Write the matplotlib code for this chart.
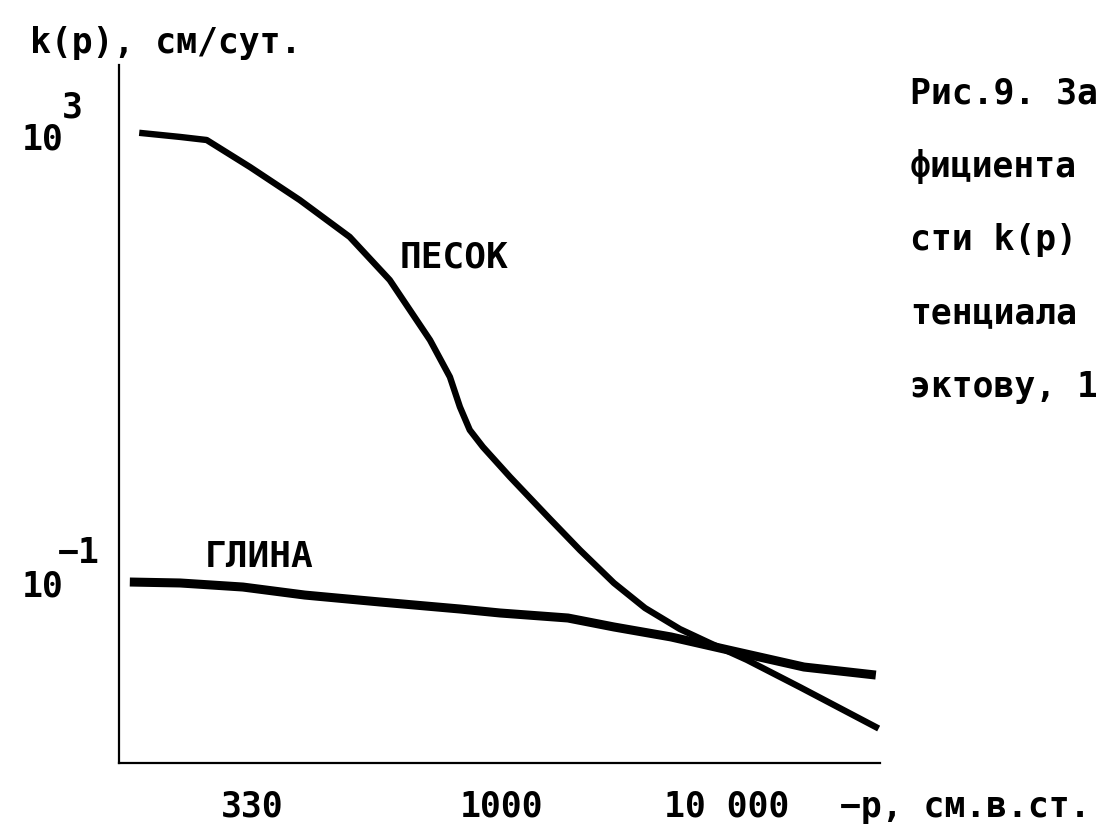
import numpy as np
import matplotlib.pyplot as plt

# Sand (ПЕСОК) and clay (ГЛИНА): suction -p (cm water) vs conductivity k (cm/day)
sand_p = [203, 240, 270, 327, 408, 509, 608, 727, 794, 830, 867, 919, 1086,
          1634, 2222, 3145, 4325, 6180, 8395, 12270, 21100, 45900]
sand_k = [1060, 980, 920, 528, 267, 125, 51.4, 14.9, 6.97, 3.76, 2.34, 1.65,
          0.889, 0.374, 0.197, 0.1, 0.0597, 0.0387, 0.0290, 0.0205, 0.0117,
          0.00514]

clay_p = [192, 240, 317, 417, 582, 830, 991, 1965, 3145, 5640, 10100, 22000, 45900]
clay_k = [0.102, 0.1, 0.092, 0.078, 0.0676, 0.0585, 0.0539, 0.0486, 0.0404,
          0.0329, 0.0252, 0.0177, 0.0150]

x_ticks = [330, 1000, 10000]
x_tick_labels = ['330', '1000', '10 000']
y_ticks = [1e3, 1e-1]
y_tick_labels = ['10', '10']
y_exponents = ['3', '−1']

caption = ['Рис.9. За', 'фициента', 'сти k(p)', 'тенциала', 'эктову, 1']


# the drawing squeezes the axis: 330..1000 is wider than 1000..10000
def fwd(p):
    lp = np.log10(np.clip(p, 1e-9, None))
    return np.where(lp < 3, (lp - 3) / 0.4815, (lp - 3) * 0.9)


def inv(u):
    return 10 ** np.where(u < 0, 3 + u * 0.4815, 3 + u / 0.9)


plt.rcParams['font.family'] = 'DejaVu Sans Mono'
plt.rcParams['font.weight'] = 'bold'

W, H = 1096, 836
fig = plt.figure(figsize=(W / 100, H / 100), dpi=100)
ax = fig.add_axes([119 / W, 1 - 763 / H, (880 - 119) / W, (763 - 65) / H])

ax.set_xscale('function', functions=(fwd, inv))
ax.set_yscale('log')

ax.plot(sand_p, sand_k, c='k', lw=4.6)
ax.plot(clay_p, clay_k, c='k', lw=6.5, solid_capstyle='butt')

ax.set_xlim(183, 47900)
ax.set_ylim(0.00245, 4315)
ax.minorticks_off()

ax.spines[['top', 'right']].set_visible(False)
ax.spines[['left', 'bottom']].set_linewidth(1.6)

ax.set_xticks(x_ticks, x_tick_labels)
ax.tick_params(axis='x', length=0, pad=19, labelsize=25)
ax.set_yticks(y_ticks, y_tick_labels)
ax.tick_params(axis='y', length=0, pad=40, labelsize=25)


def ftext(px, py, s, **kw):
    fig.text(px / W, 1 - py / H, s, va='baseline', **kw)


ftext(62, 118, y_exponents[0], fontsize=25)
ftext(58, 563, y_exponents[1], fontsize=25)

ftext(30, 53, 'k(p), см/сут.', fontsize=25)
ftext(840, 817, '−p, см.в.ст.', fontsize=25)

ftext(400, 268, 'ПЕСОК', fontsize=26)
ftext(205, 567, 'ГЛИНА', fontsize=26)

for i, line in enumerate(caption):
    ftext(910, 103 + i * 73.5, line, fontsize=25)

fig.savefig('out.png', dpi=100)
